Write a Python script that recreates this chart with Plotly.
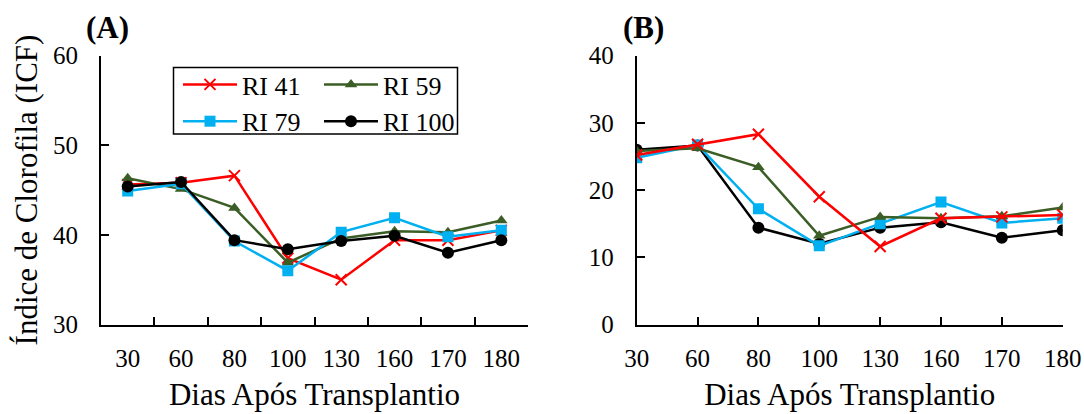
import plotly.graph_objects as go

days = ["30", "60", "80", "100", "130", "160", "170", "180"]

# Panel A
a_ri41 = [45.6, 45.8, 46.6, 37.4, 35.0, 39.4, 39.4, 40.5]
a_ri59 = [46.3, 45.1, 43.0, 36.9, 39.6, 40.4, 40.3, 41.6]
a_ri79 = [44.9, 45.7, 39.3, 36.0, 40.3, 41.9, 39.8, 40.5]
a_ri100 = [45.4, 45.9, 39.4, 38.4, 39.3, 39.9, 38.0, 39.4]

# Panel B
b_ri41 = [25.2, 26.8, 28.3, 19.0, 11.6, 15.8, 16.0, 16.3]
b_ri59 = [25.8, 26.2, 23.4, 13.2, 16.0, 15.8, 16.1, 17.4]
b_ri79 = [24.8, 26.7, 17.2, 11.7, 15.0, 18.2, 15.1, 15.8]
b_ri100 = [26.0, 26.6, 14.4, 12.0, 14.4, 15.2, 12.9, 14.0]

names = ["RI 41", "RI 59", "RI 79", "RI 100"]
colors = {"RI 41": "#FF0000", "RI 59": "#3B5E26", "RI 79": "#00B0F0", "RI 100": "#000000"}
symbols = {"RI 41": "x-thin", "RI 59": "triangle-up", "RI 79": "square", "RI 100": "circle"}
sizes = {"RI 41": 11, "RI 59": 11, "RI 79": 11, "RI 100": 12}
legend_of = {"RI 41": "legend", "RI 79": "legend", "RI 59": "legend2", "RI 100": "legend2"}

FONT = "Liberation Serif, Times New Roman, serif"

fig = go.Figure()

def add(series, name, xa, ya, show):
    fig.add_trace(go.Scatter(
        x=days, y=series, name=name, mode="lines+markers",
        line=dict(color=colors[name], width=2.5),
        marker=dict(symbol=symbols[name], size=sizes[name], color=colors[name],
                    line=dict(color=colors[name], width=2 if name == "RI 41" else 0)),
        xaxis=xa, yaxis=ya, showlegend=show, legend=legend_of[name],
    ))

panel_a = {"RI 41": a_ri41, "RI 59": a_ri59, "RI 79": a_ri79, "RI 100": a_ri100}
for n in ["RI 41", "RI 59", "RI 79", "RI 100"]:
    add(panel_a[n], n, "x", "y", True)

panel_b = {"RI 41": b_ri41, "RI 59": b_ri59, "RI 79": b_ri79, "RI 100": b_ri100}
for n in ["RI 100", "RI 79", "RI 59", "RI 41"]:
    add(panel_b[n], n, "x2", "y2", False)

W, H = 1084, 414
def px(x):
    return x / W
def py(y):
    return 1 - y / H

ydom = [py(324.5), py(55.5)]

axis_common = dict(
    showline=True, linecolor="black", linewidth=2, mirror=False,
    ticks="inside", ticklen=8, tickwidth=1.5, tickcolor="black",
    showgrid=False, zeroline=False, automargin=False,
    tickfont=dict(family=FONT, size=25, color="black"),
)
title_font = dict(family=FONT, size=31, color="black")

fig.update_layout(
    width=W, height=H,
    margin=dict(l=0, r=0, t=0, b=0, autoexpand=False),
    paper_bgcolor="white", plot_bgcolor="white",
    font=dict(family=FONT, color="black"),
    xaxis=dict(domain=[px(101), px(528)], type="category", range=[-0.5, 7.5],
               tickson="boundaries", anchor="y",
               ticklabelstandoff=10,
               title=dict(text="Dias Após Transplantio", font=title_font, standoff=13),
               **axis_common),
    yaxis=dict(domain=ydom, range=[30, 60], dtick=10, anchor="x",
               ticklabelstandoff=16,
               title=dict(text="Índice de Clorofila (ICF)", font=title_font, standoff=6),
               **axis_common),
    xaxis2=dict(domain=[px(636.7), px(1062.7)], type="category", range=[0, 7],
                anchor="y2", ticklabelstandoff=10,
                title=dict(text="Dias Após Transplantio", font=title_font, standoff=13),
                **axis_common),
    yaxis2=dict(domain=ydom, range=[0, 40], dtick=10, anchor="x2",
                ticklabelstandoff=16, **axis_common),
    legend=dict(x=px(178), y=py(61), xanchor="left", yanchor="top",
                orientation="v", bgcolor="rgba(0,0,0,0)", borderwidth=0,
                font=dict(family=FONT, size=26, color="black"),
                itemwidth=54, tracegroupgap=0),
    legend2=dict(x=px(319), y=py(61), xanchor="left", yanchor="top",
                 orientation="v", bgcolor="rgba(0,0,0,0)", borderwidth=0,
                 font=dict(family=FONT, size=26, color="black"),
                 itemwidth=54, tracegroupgap=0),
    shapes=[dict(type="rect", xref="paper", yref="paper",
                 x0=px(173.5), x1=px(457.5), y0=py(134), y1=py(67.5),
                 line=dict(color="black", width=1.5), fillcolor="rgba(0,0,0,0)")],
    annotations=[
        dict(text="<b>(A)</b>", x=px(107.5), y=py(28), xref="paper", yref="paper",
             xanchor="center", yanchor="middle",
             showarrow=False, font=dict(family=FONT, size=31, color="black")),
        dict(text="<b>(B)</b>", x=px(643), y=py(28), xref="paper", yref="paper",
             xanchor="center", yanchor="middle",
             showarrow=False, font=dict(family=FONT, size=31, color="black")),
    ],
)

fig.write_html("out.html", config={"displayModeBar": False},
               post_script="document.body.style.margin='0';document.body.style.overflow='hidden';")
